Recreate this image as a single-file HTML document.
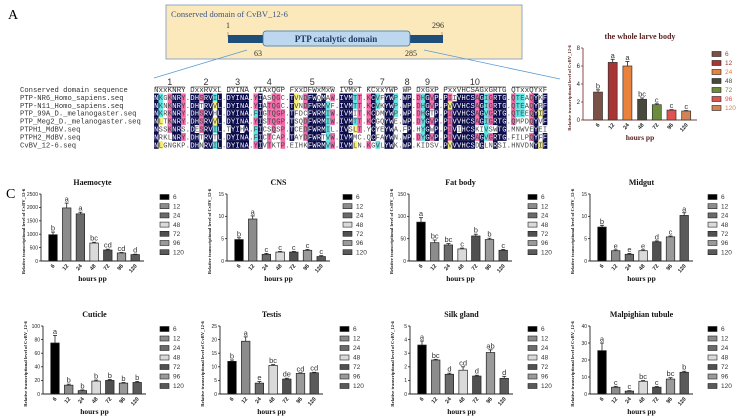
<!DOCTYPE html>
<html><head><meta charset="utf-8"><style>
html,body{margin:0;padding:0;background:#fff;}
svg{display:block;font-family:"Liberation Serif",serif;}
</style></head><body>
<svg id="fig" width="737" height="420" viewBox="0 0 737 420" xmlns="http://www.w3.org/2000/svg">
<text x="8" y="19" font-size="14">A</text>
<text x="507" y="19" font-size="14">B</text>
<text x="6" y="198" font-size="14">C</text>
<g>
<rect x="166" y="5" width="356" height="54" fill="#fbe8bb" stroke="#8fa8c8" stroke-width="1"/>
<text x="171" y="17" font-size="8.5" fill="#3b5687">Conserved domain  of CvBV_12-6</text>
<line x1="228" y1="32" x2="228" y2="37" stroke="#777" stroke-width="0.6"/>
<line x1="442" y1="32" x2="442" y2="37" stroke="#777" stroke-width="0.6"/>
<text x="226" y="28" font-size="8" fill="#333">1</text>
<text x="432" y="28" font-size="8" fill="#333">296</text>
<rect x="228" y="35" width="215" height="8" fill="#1f4e79"/>
<rect x="263" y="31" width="147" height="15" rx="3" fill="#bdd7ee" stroke="#2e75b6" stroke-width="0.8"/>
<text x="336" y="42" font-size="9" font-weight="bold" fill="#1f3864" text-anchor="middle">PTP catalytic domain</text>
<text x="254" y="56" font-size="8" fill="#333">63</text>
<text x="405" y="56" font-size="8" fill="#333">285</text>
<line x1="247" y1="50" x2="154" y2="78" stroke="#5b9bd5" stroke-width="0.8"/>
<line x1="424" y1="50" x2="560" y2="79" stroke="#5b9bd5" stroke-width="0.8"/>
</g>
<g id="align"></g>
<g id="charts"></g>
</svg>
<script>
const NS="http://www.w3.org/2000/svg";
function mk(tag,attrs,parent){const e=document.createElementNS(NS,tag);for(const k in attrs)e.setAttribute(k,attrs[k]);parent.appendChild(e);return e;}

// ---- alignment ----
const alignHeader="NxxKNRY.DxxRVxL.DYINA.YIAxQGP.FxxDFWxMxW.IVMxT.KCxxYWP.WP.DxGxP.PxxVHCSAGxGRTG.QTxxQYxF";
const alignNames=["Conserved domain sequence","PTP-NR6_Homo_sapiens.seq","PTP-N11_Homo_sapiens.seq","PTP_99A_D._melanogaster.seq","PTP_Meg2_D._melanogaster.seq","PTPH1_MdBV.seq","PTPH2_MdBV.seq","CvBV_12-6.seq"];
const alignRows=[
"NKGKNRY.DHSRVIL.DYINA.YIASQGC.TVNDFWQMAW.IVMTT.KCVFYWP.WP.DHGVP.PIIVHCSAGIGRTG.QTEAQYKF",
"NKNKNRY.DHTRVVL.DYINA.YIATQGC.TVNDFWRMVF.IVMTT.KCVKYWP.WP.DHGVP.PVVVHCSAGIGRTG.QTEAQYRF",
"NKRKNRY.DHSRVHL.DYINA.FIGTQGP.TFDCFWRMIW.IVMIT.KCDMYWP.WP.DHGTP.PIVVHCSAGVGRTG.QTEEQYIF",
"NLTKNRY.DHSRVVL.DYINA.YISTQGP.TSQDFWRMIW.IVMTT.KCGQYWE.WP.DYGVP.PIVVHCSAGIGRTG.QMPDQYVF",
"NSSKNRS.DESRVIL.TYIHA.FICSQSP.TCEDFWRMIL.IVSLT.YCYEYWA.FP.HYGWP.PIVIHCSKIVSWTG.MNWVEYEI",
"NRKLNRY.DHTRVTL.DYINA.FICTCAP.TAYDFWRTVW.IVMMC.QCFAYWN.WP.DYGVP.PIVVHCSAGVGRTG.FILPQYFF",
"NLGNGKP.DHNRVIL.DYINA.YIVTKTP.EIHKFWRMVW.IVMLN.KGVLYWK.WP.KIDSV.PVVVHCSDGLNRSI.HNVDNYIF"];
const segLabels=["1","2","3","4","5","6","7","8","9","10"];
(function(){
 const g=document.getElementById('align');
 const x0=154,cw=4.52,yH=92,dy=7.9;
 alignNames.forEach((n,i)=>{const t=mk('text',{x:20,y:yH+i*dy,'font-size':7.2,'font-family':'Liberation Mono, monospace',fill:'#333'},g);t.textContent=n;
   
   });
 // segments
 let start=0;let si=0;
 for(let i=0;i<=alignHeader.length;i++){
   if(i===alignHeader.length||alignHeader[i]==='.'){
     const xa=x0+start*cw, xb=x0+i*cw;
     mk('line',{x1:xa+1,y1:87,x2:xb-1,y2:87,stroke:'#444','stroke-width':0.8},g);
     const t=mk('text',{x:(xa+xb)/2,y:85,'font-size':9,'font-family':'Liberation Sans, sans-serif','text-anchor':'middle',fill:'#333'},g);
     t.textContent=segLabels[si++];
     
     
     start=i+1;
   }
 }
 const ht=mk('text',{x:x0,y:yH,'font-size':7.5,'font-family':'Liberation Mono, monospace',fill:'#333',textLength:alignHeader.length*cw,lengthAdjust:'spacingAndGlyphs'},g);
 ht.textContent=alignHeader.replace(/\./g,' ');
 
 
 for(let c=0;c<alignHeader.length;c++){
   const cnt={};alignRows.forEach(r=>{const ch=r[c];cnt[ch]=(cnt[ch]||0)+1;});
   alignRows.forEach((r,ri)=>{
     const ch=r[c];const y=yH+(ri+1)*dy;
     let fill=null,tc='#444';
     if(ch!=='.'){
       const k=cnt[ch];
       if(k>=6){fill='#0b0b4a';tc='#fff';}
       else if(k>=4){fill='#f06aa8';}
       else if(k===3){fill='#5fe3e3';}
       else if(k===2&&'ILVFM'.includes(ch)){fill='#f5f07a';}
     }
     if(fill)mk('rect',{x:x0+c*cw,y:y-6.4,width:cw+0.1,height:7.9,fill:fill},g);
     const t=mk('text',{x:x0+c*cw+cw/2,y:y,'font-size':7,'font-family':'Liberation Mono, monospace','text-anchor':'middle',fill:tc},g);
     t.textContent=ch;
   });
 }
})();

// ---- chart data ----
const timeCats=["6","12","24","48","72","96","120"];
const wholeValues=[3.1,6.4,6.0,2.3,1.7,1.1,1.0];
const wholeErrors=[0.25,0.35,0.5,0.15,0.1,0.05,0.05];
const wholeLetters=["b","a","a","bc","c","c","c"];
const wholeTicks=[0,2,4,6,8];
const hemoValues=[980,1980,1760,670,410,300,240];
const hemoErrors=[100,180,60,30,30,20,15];
const hemoLetters=["b","a","a","bc","cd","cd","d"];
const hemoTicks=[0,500,1000,1500,2000,2500];
const cnsValues=[4.8,9.4,1.5,2.0,2.0,2.4,1.0];
const cnsErrors=[0.4,0.7,0.2,0.15,0.15,0.2,0.2];
const cnsLetters=["b","a","c","c","c","c","c"];
const cnsTicks=[0,5,10,15];
const fatValues=[87,41,36,27,56,48,24];
const fatErrors=[10,6,3,2,4,3,2];
const fatLetters=["a","bc","bc","c","b","b","c"];
const fatTicks=[0,50,100,150];
const midValues=[7.6,2.3,1.5,2.3,4.3,5.4,10.2];
const midErrors=[0.4,0.2,0.2,0.2,0.2,0.2,0.6];
const midLetters=["b","e","e","e","d","c","a"];
const midTicks=[0,5,10,15];
const cutValues=[75,13,5,19,20,16,17];
const cutErrors=[11,1.5,1,1.5,1.5,1,1.5];
const cutLetters=["a","b","b","b","b","b","b"];
const cutTicks=[0,20,40,60,80,100];
const tesValues=[12,19.4,4,10.5,5.5,7.6,7.8];
const tesErrors=[0.5,1.6,0.6,0.3,0.3,0.2,0.2];
const tesLetters=["b","a","e","bc","de","cd","cd"];
const tesTicks=[0,5,10,15,20,25];
const silkValues=[3.6,2.5,1.45,1.75,1.32,3.05,1.15];
const silkErrors=[0.3,0.05,0.08,0.25,0.06,0.2,0.15];
const silkLetters=["a","bc","d","cd","d","ab","d"];
const silkTicks=[0,1,2,3,4,5];
const malValues=[25.5,4,1.7,7.5,4,8.8,12.8];
const malErrors=[4.5,0.5,0.3,0.4,0.4,0.8,0.6];
const malLetters=["a","c","c","bc","c","bc","b"];
const malTicks=[0,10,20,30,40];

const grayFills=["#000","#8c8c8c","#6b6b6b","#dadada","#505050","#9a9a9a","#5a5a5a"];
const colorFills=["#7b5046","#a83434","#e8823c","#48483c","#6b8c3c","#e05252","#d08458"];

function drawChart(o){
 const root=document.getElementById('charts');
 const g=mk('g',{},root);
 
 
 const max=o.ticks[o.ticks.length-1];
 const ys=v=>o.y0-(v/max)*(o.y0-o.y1);
 const xs=i=>o.ax+o.first+i*o.step;
 const tt=mk('text',{x:o.ax+o.len/2,y:o.y1-9,'font-size':o.tfs||8,'font-weight':'bold','text-anchor':'middle',fill:o.tcol||'#111'},g);
 tt.textContent=o.title;
 
 
 mk('line',{x1:o.ax,y1:o.y1,x2:o.ax,y2:o.y0,stroke:o.axc,'stroke-width':0.9},g);
 mk('line',{x1:o.ax,y1:o.y0,x2:o.ax+o.len,y2:o.y0,stroke:o.axc,'stroke-width':0.9},g);
 o.ticks.forEach(t=>{const y=ys(t);mk('line',{x1:o.ax-2,y1:y,x2:o.ax,y2:y,stroke:o.axc,'stroke-width':0.8},g);
   const l=mk('text',{x:o.ax-3,y:y+1.8,'font-size':o.fs,'font-family':'Liberation Sans, sans-serif','text-anchor':'end',fill:'#222'},g);l.textContent=t;
   
   });
 const yl=mk('text',{transform:`translate(${o.ax-(o.ylOff||14)},${(o.y0+o.y1)/2+4}) rotate(-90)`,'font-size':4.6,'font-weight':'bold','text-anchor':'middle',fill:o.tcol||'#111'},g);
 yl.textContent="Relative transcriptional level of CvBV_12-6";
 
 
 o.values.forEach((v,i)=>{
   const x=xs(i),y=ys(v),w=o.bw;
   const b=mk('rect',{x:x-w/2,y:y,width:w,height:o.y0-y,fill:o.fills[i],stroke:o.stroke||'#222','stroke-width':0.7},g);
   
   
   const ye=ys(v+o.errors[i]);
   mk('line',{x1:x,y1:y,x2:x,y2:ye,stroke:'#222','stroke-width':0.8},g);
   mk('line',{x1:x-2,y1:ye,x2:x+2,y2:ye,stroke:'#222','stroke-width':0.8},g);
   const lt=mk('text',{x:x,y:ye-1.5,'font-size':7.5,'font-family':'Liberation Sans, sans-serif','text-anchor':'middle',fill:'#333'},g);
   lt.textContent=o.letters[i];
   
   
   const xl=mk('text',{transform:`translate(${x+2},${o.y0+5}) rotate(-50)`,'font-size':5.5,'font-weight':'bold','font-family':'Liberation Sans, sans-serif','text-anchor':'end',fill:'#222'},g);
   xl.textContent=timeCats[i];
   
   
 });
 const xt=mk('text',{x:o.ax+o.len/2,y:o.y0+20,'font-size':7.5,'font-weight':'bold','text-anchor':'middle',fill:o.tcol||'#111'},g);
 xt.textContent="hours pp";
 
 
 timeCats.forEach((c,i)=>{
   const y=o.ly+i*o.lstep;
   const r=mk('rect',{x:o.lx,y:y-2.5,width:9,height:5,fill:o.fills[i],stroke:'#222','stroke-width':0.6},g);
   
   
   const t=mk('text',{x:o.lx+13,y:y+2.2,'font-size':6.5,'font-family':'Liberation Sans, sans-serif',fill:o.lcol?o.lcol[i]:'#333'},g);
   t.textContent=c;
   
   
 });
}

drawChart({name:'whole-larva-chart',title:'the whole larve body',values:wholeValues,errors:wholeErrors,letters:wholeLetters,ticks:wholeTicks,
 ax:583,len:114,y0:120,y1:48,first:15,step:14.7,bw:9,fs:6,fills:colorFills,stroke:'#333',axc:'#7a3a3a',tcol:'#5a2222',tfs:8,
 lx:712,ly:54,lstep:9,lcol:colorFills,ylOff:12});
const row1={y0:261,y1:194,len:103,first:12,step:13.7,bw:8.5,fs:5,fills:grayFills,axc:'#222',lstep:9.2,ylOff:16};
drawChart(Object.assign({},row1,{name:'haemocyte-chart',title:'Haemocyte',values:hemoValues,errors:hemoErrors,letters:hemoLetters,ticks:hemoTicks,ax:41,lx:160,ly:197}));
drawChart(Object.assign({},row1,{name:'cns-chart',title:'CNS',values:cnsValues,errors:cnsErrors,letters:cnsLetters,ticks:cnsTicks,ax:227,lx:343,ly:197}));
drawChart(Object.assign({},row1,{name:'fat-body-chart',title:'Fat body',values:fatValues,errors:fatErrors,letters:fatLetters,ticks:fatTicks,ax:409,lx:528,ly:197}));
drawChart(Object.assign({},row1,{name:'midgut-chart',title:'Midgut',values:midValues,errors:midErrors,letters:midLetters,ticks:midTicks,ax:590,lx:708,ly:197}));
const row2={y0:394,y1:326,len:103,first:12,step:13.7,bw:8.5,fs:5,fills:grayFills,axc:'#222',lstep:9.5,ylOff:16};
drawChart(Object.assign({},row2,{name:'cuticle-chart',title:'Cuticle',values:cutValues,errors:cutErrors,letters:cutLetters,ticks:cutTicks,ax:43,lx:160,ly:329}));
drawChart(Object.assign({},row2,{name:'testis-chart',title:'Testis',values:tesValues,errors:tesErrors,letters:tesLetters,ticks:tesTicks,ax:220,lx:340,ly:329}));
drawChart(Object.assign({},row2,{name:'silk-gland-chart',title:'Silk gland',values:silkValues,errors:silkErrors,letters:silkLetters,ticks:silkTicks,ax:410,lx:528,ly:329}));
drawChart(Object.assign({},row2,{name:'malpighian-tubule-chart',title:'Malpighian tubule',values:malValues,errors:malErrors,letters:malLetters,ticks:malTicks,ax:590,lx:708,ly:329}));
</script>
</body></html>
